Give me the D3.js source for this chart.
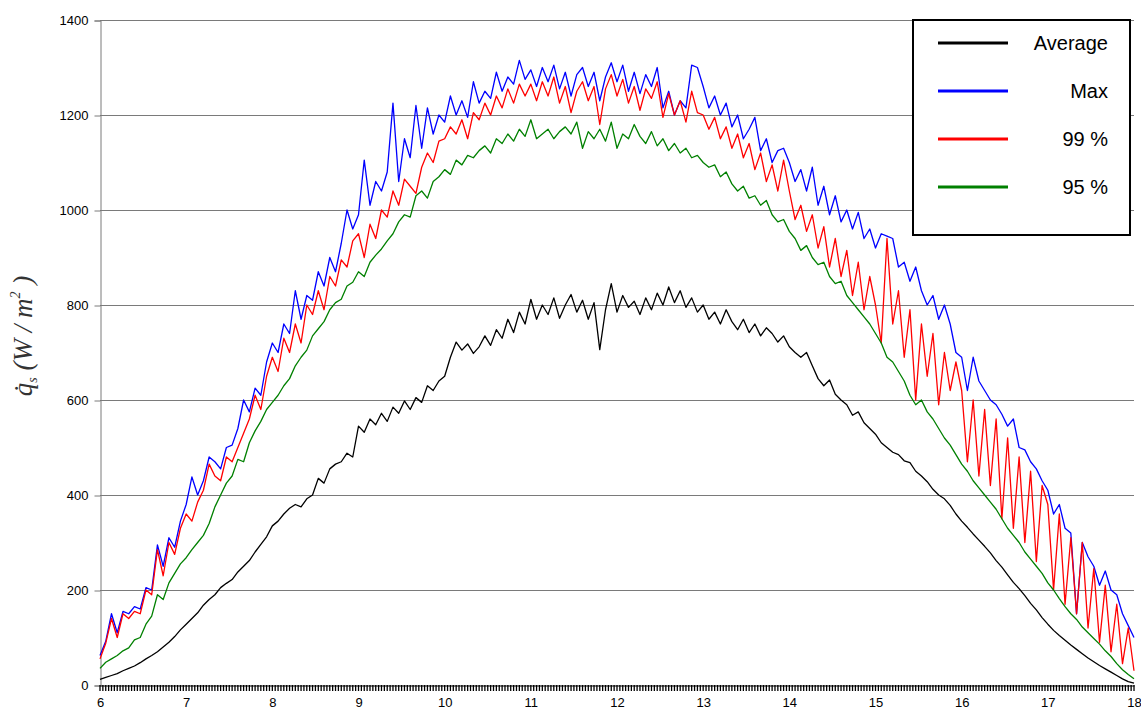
<!DOCTYPE html>
<html><head><meta charset="utf-8">
<script src="https://cdn.jsdelivr.net/npm/d3@7"></script>
<style>
body{margin:0;background:#fff;}
svg{display:block;font-family:Arial,"Liberation Sans",sans-serif;}
</style>
</head><body>
<svg id="chart" width="1141" height="713"></svg>
<script>
// ---- data (one value every 4 minutes, from 6:00 to 18:00) ----
const stepMinutes = 4;
const startHour = 6;
const xTickLabels = [6,7,8,9,10,11,12,13,14,15,16,17,18];
const yTickLabels = [0,200,400,600,800,1000,1200,1400];
const seriesNames = ["Average","Max","99 %","95 %"];
const seriesColors = ["#000000","#0000ff","#ff0000","#008000"];

const average = [
12,16,20,24,30,35,40,47,55,62,70,80,90,102,116,
128,140,152,168,180,190,205,214,222,238,250,262,280,296,312,
335,345,360,372,380,375,392,400,435,425,455,465,470,488,480,
545,532,560,548,572,555,585,572,598,580,605,595,630,620,640,
650,690,722,705,718,698,712,735,715,748,730,770,742,785,760,
812,770,800,780,815,772,800,822,785,810,770,805,706,790,845,
785,820,795,808,780,815,790,825,800,838,805,830,795,815,785,
800,770,785,760,790,765,748,770,742,760,735,752,740,722,735,
712,700,690,700,672,645,630,642,612,600,590,568,575,552,540,
528,510,500,490,485,472,468,450,440,428,412,400,392,378,360,
345,332,318,305,292,278,262,248,232,216,203,188,172,158,142,
128,115,104,94,84,75,66,57,49,41,34,27,20,13,7,
4];

const maxValues = [
62,92,150,110,155,150,165,160,205,200,295,250,310,290,345,
380,438,400,430,480,470,455,500,505,540,600,575,625,610,680,
720,700,760,740,830,770,820,810,870,840,900,870,930,1000,960,
990,1105,1010,1060,1040,1080,1225,1060,1150,1110,1220,1130,1215,1160,1200,
1185,1240,1200,1230,1195,1270,1225,1250,1235,1290,1250,1280,1265,1315,1275,
1295,1260,1300,1270,1305,1255,1290,1240,1285,1300,1260,1290,1230,1280,1310,
1270,1305,1250,1290,1245,1285,1260,1300,1215,1250,1200,1230,1215,1305,1300,
1260,1215,1240,1200,1225,1175,1200,1150,1170,1195,1125,1150,1100,1125,1130,
1100,1060,1085,1040,1090,1010,1050,990,1030,975,1000,960,995,940,960,
920,950,945,940,880,890,850,880,830,800,820,770,800,760,700,
690,620,690,640,620,600,590,570,545,560,500,495,470,455,430,
410,360,380,330,320,150,300,270,250,210,240,200,190,150,125,
100];

const p99 = [
55,88,140,100,150,140,155,150,200,190,285,230,300,275,330,
360,345,385,410,465,440,430,480,470,500,530,560,610,580,650,
690,660,730,700,760,720,800,780,830,790,860,840,895,880,935,
950,900,970,940,1000,985,1040,1010,1065,1050,1035,1090,1120,1100,1145,
1150,1175,1160,1190,1150,1205,1190,1225,1200,1240,1215,1255,1225,1265,1240,
1265,1230,1270,1240,1280,1225,1260,1205,1250,1270,1230,1260,1180,1255,1285,
1240,1275,1225,1260,1210,1255,1235,1270,1195,1245,1200,1230,1185,1250,1205,
1200,1170,1195,1150,1175,1130,1160,1110,1140,1085,1120,1060,1095,1040,1105,
1040,980,1010,955,990,920,965,880,940,860,915,820,890,790,860,
800,720,940,760,830,690,790,600,760,650,740,590,700,620,680,
620,470,600,440,580,420,560,350,520,330,480,300,450,260,420,
380,200,360,170,310,150,300,120,245,90,210,70,170,45,120,
30];

const p95 = [
35,48,55,62,72,78,95,100,128,145,190,180,215,235,255,
268,285,300,315,340,375,400,425,440,475,470,510,535,555,580,
595,610,630,645,672,690,705,735,750,765,790,805,812,840,848,
870,860,890,905,918,935,950,975,990,985,1030,1040,1025,1060,1070,
1085,1075,1105,1095,1115,1110,1125,1135,1120,1150,1140,1160,1145,1170,1155,
1190,1150,1160,1170,1150,1165,1175,1160,1185,1130,1165,1150,1170,1145,1185,
1130,1160,1150,1180,1155,1140,1165,1135,1150,1125,1140,1120,1130,1110,1115,
1100,1090,1095,1070,1080,1055,1040,1050,1025,1030,1010,1020,990,975,980,
955,940,915,925,900,885,890,860,845,850,820,805,790,775,760,
740,720,690,680,660,640,610,590,600,575,560,540,520,505,485,
465,450,430,415,400,385,370,350,330,315,300,280,265,250,235,
215,200,182,165,150,138,122,110,98,86,72,60,45,32,22,
13];

const seriesValues = [average, maxValues, p99, p95];

// ---- drawing ----
const svg = d3.select("#chart");
const x = d3.scaleLinear().domain([6,18]).range([100,1134]);
const y = d3.scaleLinear().domain([0,1400]).range([685,20]);

// gridlines
svg.append("g").selectAll("line")
  .data(yTickLabels.filter(v => v > 0))
  .join("line")
  .attr("x1", x(6)).attr("x2", x(18))
  .attr("y1", d => Math.round(y(d)) + 0.5).attr("y2", d => Math.round(y(d)) + 0.5)
  .attr("stroke", "#7a7a7a").attr("stroke-width", 1);

// y axis
const yAxis = svg.append("g").attr("transform", "translate(100.5,0.5)")
  .call(d3.axisLeft(y).tickValues(yTickLabels).tickSize(6).tickPadding(6).tickFormat(d3.format("d")));
yAxis.select(".domain").attr("stroke", "#7a7a7a");
yAxis.selectAll(".tick line").attr("stroke", "#7a7a7a");
yAxis.selectAll("text").attr("font-size", 13).attr("fill", "#000")
  .attr("font-family", "Arial, 'Liberation Sans', sans-serif");

// minor ticks on x axis (one per 2 minutes)
const minorTicks = d3.range(0, 12 * 60 + 1, 2).map(m => startHour + m / 60);
svg.append("g").selectAll("line").data(minorTicks).join("line")
  .attr("x1", d => x(d)).attr("x2", d => x(d))
  .attr("y1", 685).attr("y2", 691)
  .attr("stroke", "#000").attr("stroke-width", 1.3);

// x axis
const xAxis = svg.append("g").attr("transform", "translate(0,685.5)")
  .call(d3.axisBottom(x).tickValues(xTickLabels).tickSize(0).tickPadding(12).tickFormat(d3.format("d")));
xAxis.select(".domain").attr("stroke", "#000").attr("stroke-width", 1.2);
xAxis.selectAll("text").attr("font-size", 13).attr("fill", "#000")
  .attr("font-family", "Arial, 'Liberation Sans', sans-serif");

// series lines
const line = d3.line()
  .x((d, i) => x(startHour + i * stepMinutes / 60))
  .y(d => y(d));
svg.append("g").selectAll("path").data(seriesValues).join("path")
  .attr("d", d => line(d))
  .attr("fill", "none")
  .attr("stroke", (d, i) => seriesColors[i])
  .attr("stroke-width", 1.3)
  .attr("stroke-linejoin", "round");

// legend
const lg = svg.append("g");
lg.append("rect").attr("x", 913).attr("y", 20).attr("width", 217).attr("height", 215)
  .attr("fill", "#fff").attr("stroke", "#000").attr("stroke-width", 2);
const items = lg.selectAll("g.item").data(seriesNames).join("g").attr("class", "item")
  .attr("transform", (d, i) => `translate(0,${43 + i * 48})`);
items.append("line").attr("x1", 938).attr("x2", 1008).attr("y1", 0).attr("y2", 0)
  .attr("stroke", (d, i) => seriesColors[i]).attr("stroke-width", 3);
items.append("text").attr("x", 1108).attr("y", 7).attr("text-anchor", "end")
  .attr("font-size", 20).attr("fill", "#000").text(d => d);

// y axis title
const yt = svg.append("text")
  .attr("transform", "translate(32,336) rotate(-90)")
  .attr("text-anchor", "middle")
  .attr("font-family", "'Liberation Serif', 'DejaVu Serif', serif")
  .attr("font-style", "italic")
  .attr("font-size", 27)
  .attr("fill", "#333");
yt.append("tspan").text("q\u0307");
yt.append("tspan").attr("font-size", 14).attr("dy", 5).text("s");
yt.append("tspan").attr("dy", -5).text(" (W / m");
yt.append("tspan").attr("font-size", 14).attr("dy", -12).text("2");
yt.append("tspan").attr("dy", 12).text(" )");
</script>
</body></html>
